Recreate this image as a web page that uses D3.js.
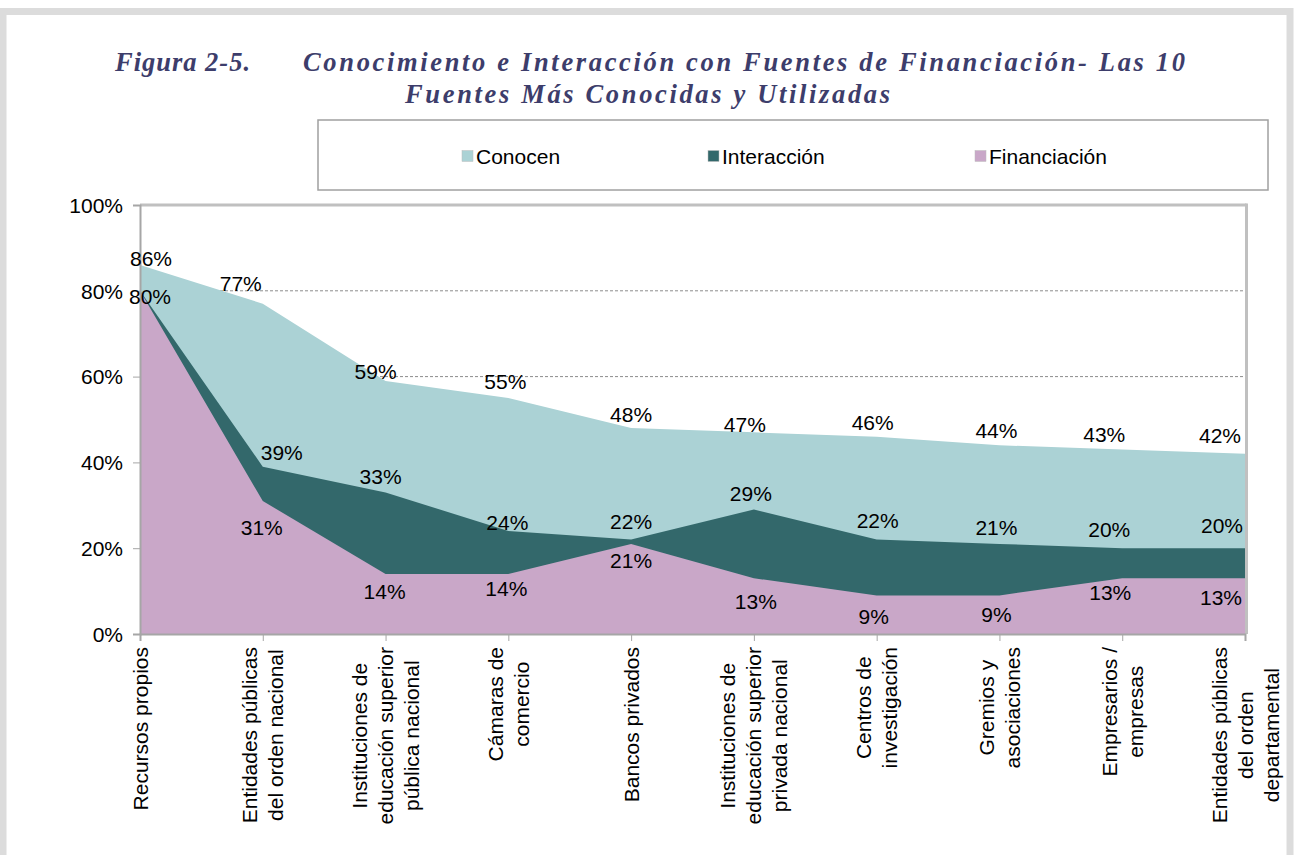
<!DOCTYPE html>
<html>
<head>
<meta charset="utf-8">
<script src="https://cdn.jsdelivr.net/npm/d3@7"></script>
<style>
  html, body { margin: 0; padding: 0; background: #fff; }
  svg { display: block; }
</style>
</head>
<body>
<svg id="chart" width="1295" height="855"></svg>
<script>
// ---------------- DATA ----------------
const categories = [
  "Recursos propios",
  "Entidades públicas del orden nacional",
  "Instituciones de educación superior pública nacional",
  "Cámaras de comercio",
  "Bancos privados",
  "Instituciones de educación superior privada nacional",
  "Centros de investigación",
  "Gremios y asociaciones",
  "Empresarios / empresas",
  "Entidades públicas del orden departamental"
];
const categoryLines = [
  ["Recursos propios"],
  ["Entidades públicas", "del orden nacional"],
  ["Instituciones de", "educación superior", "pública nacional"],
  ["Cámaras de", "comercio"],
  ["Bancos privados"],
  ["Instituciones de", "educación superior", "privada nacional"],
  ["Centros de", "investigación"],
  ["Gremios y", "asociaciones"],
  ["Empresarios /", "empresas"],
  ["Entidades públicas", "del orden", "departamental"]
];
const seriesNames = ["Conocen", "Interacción", "Financiación"];
const conocen      = [0.86, 0.77, 0.59, 0.55, 0.48, 0.47, 0.46, 0.44, 0.43, 0.42];
const interaccion  = [0.80, 0.39, 0.33, 0.24, 0.22, 0.29, 0.22, 0.21, 0.20, 0.20];
const financiacion = [0.80, 0.31, 0.14, 0.14, 0.21, 0.13, 0.09, 0.09, 0.13, 0.13];
const yTicks = [0, 0.2, 0.4, 0.6, 0.8, 1.0];
const titleLine1a = "Figura 2-5.";
const titleLine1b = "Conocimiento e Interacción con Fuentes de Financiación- Las 10";
const titleLine2  = "Fuentes Más Conocidas y Utilizadas";

// ---------------- LAYOUT / STYLE ----------------
const colors = { "Conocen": "#abd2d5", "Interacción": "#33686b", "Financiación": "#c9a7c8" };
const margin = { left: 140, right: 1245, top: 205, bottom: 634 };
// label nudges (relative offsets, px) reproducing the reference placement
const conNudge = [[11,-7],[-22,-20],[-10,-9],[-3,-17],[0,-14],[-9,-8],[-4,-14],[-3,-15],[-18,-15],[-25,-18]];
const intNudge = [[0,0],[19,-14],[-5,-16],[-1,-9],[0,-18],[-3,-16],[1,-19],[-3,-16],[-13,-19],[-23,-23]];
const finNudge = [[10,6],[-1,26],[-1,18],[-2,15],[0,17],[2,23],[-3,21],[-3,19],[-12,14],[-24,19]];
const FONT = "'Liberation Sans', Arial, sans-serif";

const svg = d3.select("#chart");

// outer frame
svg.append("rect").attr("x", 3).attr("y", 11.5).attr("width", 1287).attr("height", 900)
  .attr("fill", "#fff").attr("stroke", "#dcdcdc").attr("stroke-width", 7);

// title
const tColor = "#3d3d6b";
const tFont = "'Liberation Serif', 'Times New Roman', serif";
function titleText(txt, x, y, len) {
  svg.append("text").attr("x", x).attr("y", y).text(txt)
    .attr("font-family", tFont).attr("font-style", "italic").attr("font-weight", "bold")
    .attr("font-size", 26.5).attr("fill", tColor)
    .attr("textLength", len).attr("lengthAdjust", "spacing");
}
titleText(titleLine1a, 115, 71, 135);
titleText(titleLine1b, 303, 71, 882);
titleText(titleLine2, 405, 103, 485);

// scales
const x = d3.scalePoint().domain(categories).range([margin.left, margin.right]);
const y = d3.scaleLinear().domain([0, 1]).range([margin.bottom, margin.top]);

// gridlines
svg.append("g").selectAll("line").data(yTicks.filter(d => d > 0 && d < 1)).join("line")
  .attr("x1", margin.left).attr("x2", margin.right)
  .attr("y1", d => y(d)).attr("y2", d => y(d))
  .attr("stroke", "#8c8c8c").attr("stroke-width", 1).attr("stroke-dasharray", "3,2");

// areas (overlapping, not stacked)
const series = [
  { name: "Conocen", values: conocen },
  { name: "Interacción", values: interaccion },
  { name: "Financiación", values: financiacion }
];
const area = d3.area()
  .x((d, i) => x(categories[i]))
  .y0(y(0))
  .y1(d => y(d));
svg.append("g").selectAll("path").data(series).join("path")
  .attr("d", s => area(s.values))
  .attr("fill", s => colors[s.name]);

// plot border (top and right) and axes
svg.append("line").attr("x1", margin.left).attr("x2", margin.right + 1.5)
  .attr("y1", margin.top).attr("y2", margin.top)
  .attr("stroke", "#c0c0c0").attr("stroke-width", 3);
svg.append("line").attr("x1", margin.right + 1.5).attr("x2", margin.right + 1.5)
  .attr("y1", margin.top - 1.5).attr("y2", margin.bottom)
  .attr("stroke", "#c0c0c0").attr("stroke-width", 3);

const yAxis = svg.append("g").attr("transform", `translate(${margin.left},0)`)
  .call(d3.axisLeft(y).tickValues(yTicks).tickFormat(d3.format(".0%")).tickSize(7).tickPadding(10));
yAxis.select(".domain").attr("stroke", "#a6a6a6").attr("stroke-width", 2);
yAxis.selectAll(".tick line").attr("stroke", "#a6a6a6");
yAxis.selectAll(".tick text").attr("font-family", FONT).attr("font-size", 21).attr("fill", "#000")
  .attr("dy", "0.35em");

const xAxis = svg.append("g").attr("transform", `translate(0,${margin.bottom})`)
  .call(d3.axisBottom(x).tickSize(7).tickFormat(""));
xAxis.select(".domain").attr("stroke", "#a6a6a6").attr("stroke-width", 2);
xAxis.selectAll(".tick line").attr("stroke", "#a6a6a6");

// category labels (rotated, multi-line, centered block)
const catG = svg.append("g");
categories.forEach((c, i) => {
  const lines = categoryLines[i];
  const n = lines.length;
  const tmp = catG.selectAll(null).data(lines).join("text")
    .attr("font-family", FONT).attr("font-size", 21).text(d => d);
  let maxW = 0;
  tmp.each(function () { maxW = Math.max(maxW, this.getComputedTextLength()); });
  const cy = margin.bottom + 13 + maxW / 2;
  tmp.attr("text-anchor", "middle").attr("dominant-baseline", "central").attr("fill", "#000")
    .attr("transform", (d, k) => {
      const cx = x(c) + (k - (n - 1) / 2) * 26;
      return `translate(${cx},${cy}) rotate(-90)`;
    });
});

// data labels
const fmt = d3.format(".0%");
function labels(values, nudge, skip) {
  svg.append("g").selectAll("text").data(values.map((v, i) => ({ v, i })).filter(d => !skip || !skip(d)))
    .join("text")
    .attr("x", d => x(categories[d.i]) + nudge[d.i][0])
    .attr("y", d => y(d.v) + nudge[d.i][1])
    .attr("text-anchor", "middle").attr("dominant-baseline", "central")
    .attr("font-family", FONT).attr("font-size", 21).attr("fill", "#000")
    .text(d => fmt(d.v));
}
labels(conocen, conNudge);
labels(interaccion, intNudge, d => interaccion[d.i] === financiacion[d.i]);
labels(financiacion, finNudge);

// legend
svg.append("rect").attr("x", 318).attr("y", 120).attr("width", 950).attr("height", 70)
  .attr("fill", "#fff").attr("stroke", "#a0a0a0").attr("stroke-width", 1.5);
const legendX = [462, 708, 975];
const lg = svg.append("g").selectAll("g").data(seriesNames).join("g")
  .attr("transform", (d, i) => `translate(${legendX[i]},156)`);
lg.append("rect").attr("x", 0).attr("y", -5.5).attr("width", 11).attr("height", 11)
  .attr("fill", d => colors[d]).attr("stroke", "#bdbdbd").attr("stroke-width", 0.5);
lg.append("text").attr("x", 14).attr("y", 0).attr("dominant-baseline", "central")
  .attr("font-family", FONT).attr("font-size", 21).attr("fill", "#000").text(d => d);
</script>
</body>
</html>
